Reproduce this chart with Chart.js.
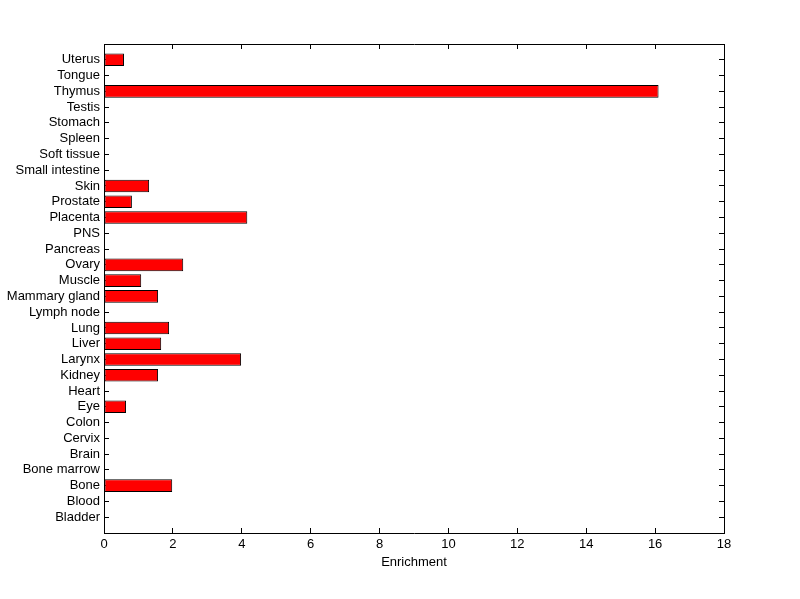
<!DOCTYPE html>
<html>
<head>
<meta charset="utf-8">
<script src="https://cdn.jsdelivr.net/npm/chart.js@4/dist/chart.umd.min.js"></script>
<style>
  body { margin: 0; background: #fff; }
  canvas { display: block; }
</style>
</head>
<body>
<canvas id="enrichChart" width="800" height="599"></canvas>
<script>
// tissues, bottom to top as on the axis
const tissues = [
    "Bladder", "Blood", "Bone", "Bone marrow", "Brain", "Cervix", "Colon", "Eye",
    "Heart", "Kidney", "Larynx", "Liver", "Lung", "Lymph node", "Mammary gland",
    "Muscle", "Ovary", "Pancreas", "PNS", "Placenta", "Prostate", "Skin",
    "Small intestine", "Soft tissue", "Spleen", "Stomach", "Testis", "Thymus",
    "Tongue", "Uterus"
];
const enrichment = [
    0, 0, 1.98, 0, 0, 0, 0, 0.64,
    0, 1.57, 3.98, 1.66, 1.89, 0, 1.57,
    1.08, 2.30, 0, 0, 4.16, 0.81, 1.31,
    0, 0, 0, 0, 0, 16.1,
    0, 0.58
];
const xTicks = [0, 2, 4, 6, 8, 10, 12, 14, 16, 18];

Chart.defaults.font.family = "'Liberation Sans', Arial, sans-serif";
Chart.defaults.font.size = 13;
Chart.defaults.color = "#000";

// positions 1..n on a linear y axis, like matlab's barh
const points = enrichment.map((v, i) => ({ x: v, y: i + 1 }));

function onlyTissueTicks(scale) {
    scale.ticks = tissues.map((t, i) => ({ value: i + 1 }));
}

function inwardGrid() {
    return { offset: false, drawOnChartArea: false, drawTicks: true, tickLength: -5, color: "#000", lineWidth: 1 };
}

const ctx = document.getElementById("enrichChart").getContext("2d");

new Chart(ctx, {
    type: "bar",
    data: {
        datasets: [{
            data: points,
            backgroundColor: "#ff0000",
            borderColor: "#000",
            borderWidth: 1,
            borderSkipped: false,
            barPercentage: 0.8,
            categoryPercentage: 1.0
        }]
    },
    options: {
        indexAxis: "y",
        responsive: false,
        animation: false,
        layout: { padding: 0 },
        plugins: {
            legend: { display: false },
            tooltip: { enabled: false }
        },
        scales: {
            x: {
                type: "linear",
                position: "bottom",
                min: 0,
                max: 18,
                offset: false,
                afterBuildTicks: s => { s.ticks = xTicks.map(v => ({ value: v })); },
                afterFit: s => { s.height = 66; },
                grid: inwardGrid(),
                border: { display: true, color: "#000" },
                ticks: { padding: 9, maxRotation: 0 },
                title: { display: true, text: "Enrichment", padding: { top: 0, bottom: 29 } }
            },
            x2: {
                type: "linear",
                position: "top",
                min: 0,
                max: 18,
                offset: false,
                afterBuildTicks: s => { s.ticks = xTicks.map(v => ({ value: v })); },
                afterFit: s => { s.height = 44; },
                grid: inwardGrid(),
                border: { display: true, color: "#000" },
                ticks: { display: false }
            },
            y: {
                type: "linear",
                position: "left",
                min: 0,
                max: tissues.length + 1,
                offset: false,
                afterBuildTicks: onlyTissueTicks,
                afterFit: s => { s.width = 104; },
                grid: inwardGrid(),
                border: { display: true, color: "#000" },
                ticks: {
                    autoSkip: false,
                    padding: 9,
                    callback: v => tissues[v - 1] || ""
                }
            },
            y2: {
                type: "linear",
                position: "right",
                min: 0,
                max: tissues.length + 1,
                offset: false,
                afterBuildTicks: onlyTissueTicks,
                afterFit: s => { s.width = 76; },
                grid: inwardGrid(),
                border: { display: true, color: "#000" },
                ticks: { display: false }
            }
        }
    }
});
</script>
</body>
</html>
